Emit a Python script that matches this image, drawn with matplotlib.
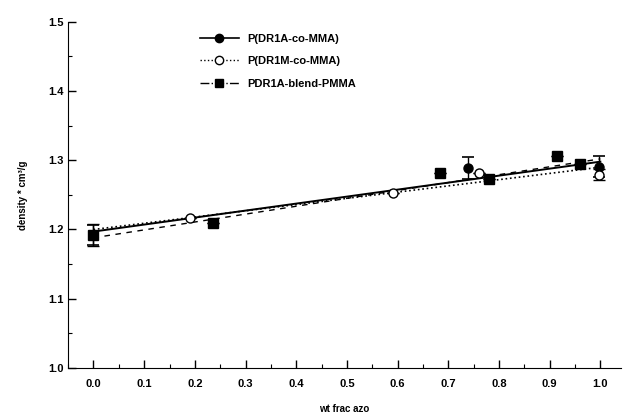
import matplotlib
matplotlib.use("Agg")
import matplotlib.pyplot as plt
import numpy as np
from matplotlib.ticker import MultipleLocator

# data
co_x = [0.0, 0.738, 0.998]
co_y = [1.192, 1.289, 1.291]
co_err = [0.015, 0.016, 0.015]

m_x = [0.19, 0.59, 0.761, 0.998]
m_y = [1.217, 1.253, 1.282, 1.279]
m_err = [0.0, 0.0, 0.0, 0.008]

bl_x = [0.0, 0.235, 0.683, 0.781, 0.915, 0.959]
bl_y = [1.192, 1.21, 1.281, 1.273, 1.306, 1.295]
bl_err = [0.016, 0.0, 0.0, 0.0, 0.0, 0.0]

fit_x = [0.0, 1.0]
co_fit = [1.197, 1.298]
m_fit = [1.200, 1.290]
bl_fit = [1.188, 1.302]

labels = ["P(DR1A-co-MMA)", "P(DR1M-co-MMA)", "PDR1A-blend-PMMA"]

plt.rcParams['font.family'] = ['Liberation Sans', 'DejaVu Sans']
plt.rcParams['font.weight'] = 'bold'

fig = plt.figure(figsize=(6.25, 4.2), dpi=100)
ax = fig.add_axes([0.109, 0.124, 0.884, 0.824])

ax.plot(fit_x, co_fit, '-', color='black', lw=1.4)
ax.plot(fit_x, m_fit, ':', color='black', lw=1.2)
ax.plot(fit_x, bl_fit, '--', color='black', lw=1.0, dashes=(4, 4))

ax.errorbar(co_x, co_y, yerr=co_err, fmt='o', color='black', ms=6.5, capsize=4, lw=1, capthick=1.2)
ax.errorbar(m_x, m_y, yerr=m_err, fmt='o', mfc='white', mec='black', ecolor='black', ms=6.5, capsize=4, lw=1)
ax.errorbar(bl_x, bl_y, yerr=bl_err, fmt='s', color='black', ms=6.5, capsize=4, lw=1)

# legend proxies
h1, = ax.plot([], [], '-', color='black', marker='o', ms=6, lw=1.2)
h2, = ax.plot([], [], ':', color='black', marker='o', mfc='white', ms=6, lw=1.0)
h3, = ax.plot([], [], '-.', color='black', marker='s', ms=6, lw=1.0)
ax.legend([h1, h2, h3], labels, loc='upper left', bbox_to_anchor=(0.22, 0.995),
          frameon=False, handlelength=3.5, labelspacing=1.15,
          prop={'weight': 'bold', 'size': 8})

ax.set_xlim(-0.05, 1.04)
ax.set_ylim(1.0, 1.5)
ax.yaxis.set_major_locator(MultipleLocator(0.1))
ax.yaxis.set_minor_locator(MultipleLocator(0.05))
ax.set_xticks(np.round(np.arange(0, 1.01, 0.1), 1))
ax.set_xticks(np.round(np.arange(-0.05, 1.04, 0.05), 2), minor=True)
ax.xaxis.set_major_formatter(matplotlib.ticker.FormatStrFormatter('%.1f'))
ax.yaxis.set_major_formatter(matplotlib.ticker.FormatStrFormatter('%.1f'))
ax.tick_params(direction='in', which='major', length=6, width=1, labelsize=8)
ax.tick_params(direction='in', which='minor', length=3, width=0.8)
ax.tick_params(axis='x', pad=8)
for s in ['top', 'right']:
    ax.spines[s].set_visible(False)

ax.set_xlabel('wt frac azo', fontsize=7, fontweight='bold', labelpad=11)
ax.set_ylabel('density * cm³/g', fontsize=7, fontweight='bold', labelpad=14)

fig.savefig('out.png', dpi=100)
